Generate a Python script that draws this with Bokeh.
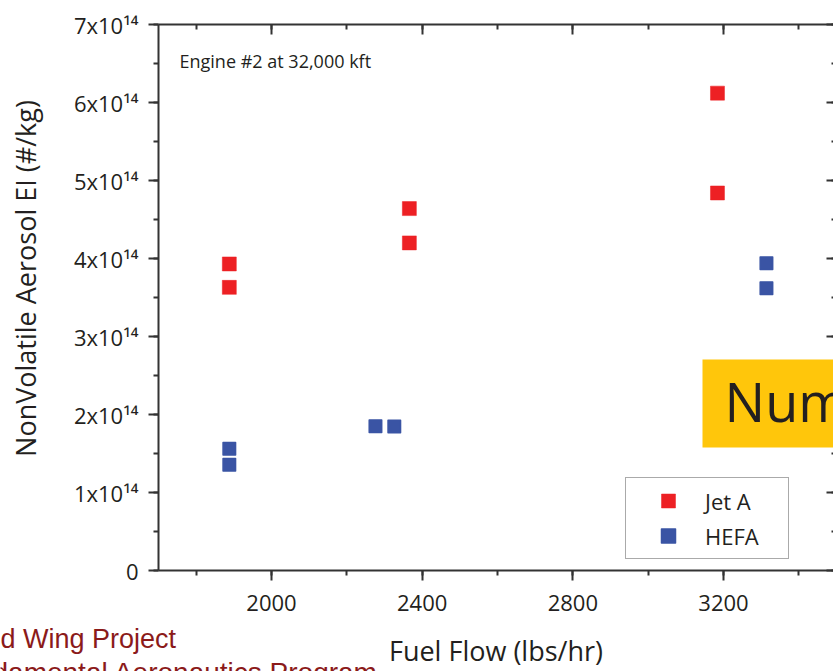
from bokeh.plotting import figure
from bokeh.models import (Range1d, LinearAxis, SingleIntervalTicker, Label,
                          BoxAnnotation, Legend, LegendItem, CustomJSTickFormatter)
from bokeh.embed import file_html
from bokeh.resources import INLINE

# ---- data ----
jet_flow = [1888, 1888, 2366, 2366, 3184, 3184]
jet_ei = [3.93e14, 3.63e14, 4.64e14, 4.20e14, 6.12e14, 4.84e14]
hefa_flow = [1888, 1888, 2276, 2326, 3314, 3314]
hefa_ei = [1.56e14, 1.355e14, 1.85e14, 1.846e14, 3.94e14, 3.62e14]

y_tick_values = [0, 1e14, 2e14, 3e14, 4e14, 5e14, 6e14, 7e14]
y_tick_labels = ["0", "1x10¹⁴", "2x10¹⁴", "3x10¹⁴", "4x10¹⁴",
                 "5x10¹⁴", "6x10¹⁴", "7x10¹⁴"]
series_names = ["Jet A", "HEFA"]

# axis extents (data) and where the axes box sits on the 833x671 canvas (px)
X_MIN, X_MAX = 1700, 3500
Y_MIN, Y_MAX = 0, 7e14
W, H = 833, 671
BOX_L, BOX_R, BOX_T, BOX_B = 158, 836, 24, 570

sx = (BOX_R - BOX_L) / (X_MAX - X_MIN)
sy = (BOX_B - BOX_T) / (Y_MAX - Y_MIN)
x_range = Range1d(X_MIN - BOX_L / sx, X_MAX - (BOX_R - W) / sx)
y_range = Range1d(Y_MIN - (H - BOX_B) / sy, Y_MAX + BOX_T / sy)

RED = "#ED2024"
BLUE = "#3A54A4"
INK = "#231F20"
AXIS = "#333333"
FOOT = "#8B1A1A"
FONT = "Open Sans"

p = figure(width=W, height=H, output_backend="svg", toolbar_location=None,
           x_range=x_range, y_range=y_range, min_border=0,
           x_axis_location=None, y_axis_location=None,
           background_fill_color="white", border_fill_color="white")
p.outline_line_color = None
p.grid.visible = False

xt = SingleIntervalTicker(interval=400, num_minor_ticks=2)
yt = SingleIntervalTicker(interval=1e14, num_minor_ticks=2)
blank = CustomJSTickFormatter(code="return ''")


def style(ax):
    ax.axis_line_color = AXIS
    ax.axis_line_width = 2
    ax.major_tick_line_color = AXIS
    ax.minor_tick_line_color = AXIS
    ax.major_tick_line_width = 2
    ax.minor_tick_line_width = 2
    ax.major_label_text_font = FONT
    ax.major_label_text_color = INK
    ax.major_label_text_font_size = "22px"
    ax.axis_label_text_font = FONT
    ax.axis_label_text_font_style = "normal"
    ax.axis_label_text_color = INK


bottom = LinearAxis(ticker=xt, axis_label="Fuel Flow (lbs/hr)",
                    fixed_location=Y_MIN, bounds=(X_MIN, X_MAX))
style(bottom)
bottom.major_tick_out = 10
bottom.major_tick_in = 0
bottom.minor_tick_out = 5
bottom.minor_tick_in = 0
bottom.major_label_standoff = 14
bottom.axis_label_text_font_size = "27px"
bottom.axis_label_standoff = 18
p.add_layout(bottom, "below")

left = LinearAxis(ticker=yt, fixed_location=X_MIN, bounds=(Y_MIN, Y_MAX))
style(left)
left.major_tick_out = 10
left.major_tick_in = 0
left.minor_tick_out = 5
left.minor_tick_in = 0
left.major_label_standoff = 10
left.major_label_overrides = {v: t for v, t in zip(y_tick_values, y_tick_labels)}
p.add_layout(left, "left")

top = LinearAxis(ticker=xt, fixed_location=Y_MAX, bounds=(X_MIN, X_MAX),
                 formatter=blank)
style(top)
top.major_tick_out = 0
top.major_tick_in = 10
top.minor_tick_out = 0
top.minor_tick_in = 5
p.add_layout(top, "above")

right = LinearAxis(ticker=yt, fixed_location=X_MAX, bounds=(Y_MIN, Y_MAX),
                   formatter=blank)
style(right)
right.major_tick_out = 0
right.major_tick_in = 10
right.minor_tick_out = 0
right.minor_tick_in = 5
p.add_layout(right, "right")

r_jet = p.scatter(jet_flow, jet_ei, marker="square", size=14,
                  fill_color=RED, line_color=RED, line_width=0.5)
r_hefa = p.scatter(hefa_flow, hefa_ei, marker="square", size=12.5,
                   fill_color=BLUE, line_color=BLUE, line_width=1.5,
                   line_join="round")

legend = Legend(items=[LegendItem(label=series_names[0], renderers=[r_jet]),
                       LegendItem(label=series_names[1], renderers=[r_hefa])],
                location=(625, H - 559), orientation="vertical",
                glyph_width=74, glyph_height=35, label_standoff=0,
                label_width=78, label_height=35, spacing=-3, padding=5,
                margin=0, border_line_color="#555555", border_line_width=1,
                background_fill_color="white", background_fill_alpha=1,
                label_text_font=FONT, label_text_font_size="22px",
                label_text_color=INK)
p.add_layout(legend)


def baseline(y_px, size):
    # screen y (from bottom) for a text whose baseline sits at y_px from the top
    return H - y_px + 0.39 * size


# annotation text inside the axes box
p.add_layout(Label(x=179, y=baseline(68, 18), x_units="screen", y_units="screen",
                   text="Engine #2 at 32,000 kft", text_font=FONT,
                   text_font_size="18px", text_color=INK,
                   text_baseline="alphabetic"))

# y axis title (sits above the box centre, as in the reference)
p.add_layout(Label(x=25, y=H - 278, x_units="screen", y_units="screen",
                   text="NonVolatile Aerosol EI (#/kg)", angle=1.5707963,
                   text_font=FONT, text_font_size="27px", text_color=INK,
                   text_align="center", text_baseline="middle"))

# overlaid slide elements
p.add_layout(BoxAnnotation(left=702, right=W + 10, bottom=H - 447, top=H - 359,
                           left_units="screen", right_units="screen",
                           bottom_units="screen", top_units="screen",
                           fill_color="#FFC60B", fill_alpha=1, line_color=None))
p.add_layout(Label(x=724, y=baseline(422, 54), x_units="screen", y_units="screen",
                   text="Num", text_font=FONT, text_font_size="54px",
                   text_color=INK, text_baseline="alphabetic"))

p.add_layout(Label(x=0, y=baseline(649, 27), x_units="screen", y_units="screen",
                   text="d Wing Project", text_font="Liberation Sans",
                   text_font_size="27px", text_color=FOOT,
                   text_baseline="alphabetic"))
p.add_layout(Label(x=-8, y=baseline(683, 27), x_units="screen", y_units="screen",
                   text="damental Aeronautics Program", text_font="Liberation Sans",
                   text_font_size="28px", text_color=FOOT,
                   text_baseline="alphabetic"))

open("out.html", "w").write(file_html(p, INLINE))
